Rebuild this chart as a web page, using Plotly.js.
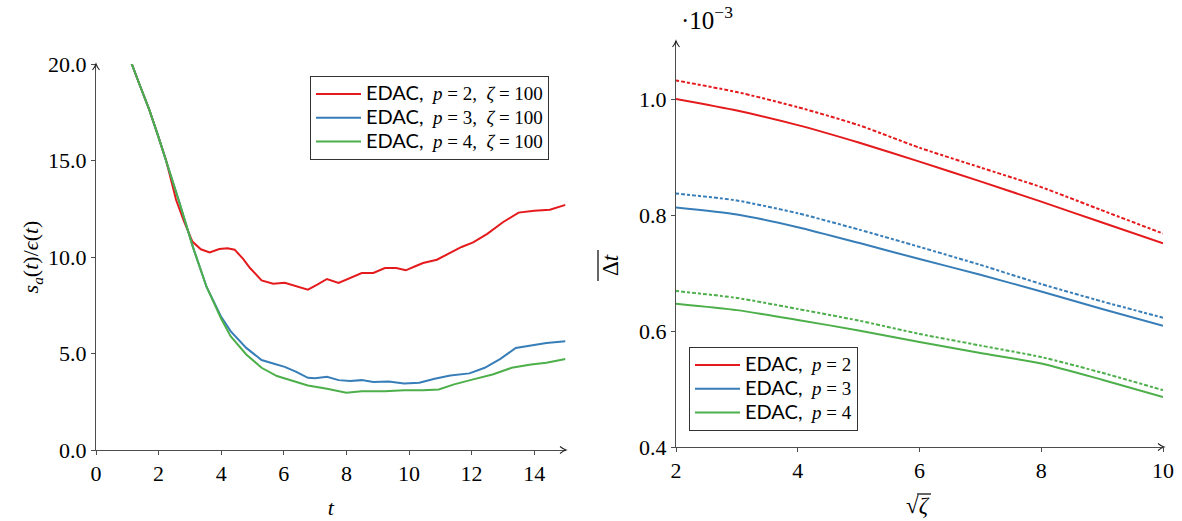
<!DOCTYPE html>
<html>
<head>
<meta charset="utf-8">
<script src="https://cdn.plot.ly/plotly-3.0.1.min.js"></script>
<style>
  html, body { margin: 0; padding: 0; background: #fff; }
  #chart { width: 1182px; height: 521px; }
</style>
</head>
<body>
<div id="chart"></div>
<script>
// ---- left panel: s_a(t)/eps(t) over time ----
const tRed = [1.0, 1.12, 1.4, 1.71, 2.0, 2.24, 2.56, 2.8, 3.08, 3.35, 3.63, 3.94, 4.2, 4.43, 4.7, 4.92, 5.29, 5.66, 6.03, 6.4, 6.77, 7.07, 7.38, 7.75, 8.12, 8.49, 8.86, 9.23, 9.59, 9.9, 10.2, 10.45, 10.89, 11.25, 11.68, 12.05, 12.5, 13.0, 13.5, 14.0, 14.5, 15.0];
const sRed = [20.8, 20.1, 18.9, 17.6, 16.2, 15.0, 12.95, 11.9, 10.8, 10.4, 10.24, 10.41, 10.45, 10.38, 9.9, 9.43, 8.79, 8.62, 8.66, 8.48, 8.31, 8.57, 8.86, 8.66, 8.91, 9.17, 9.17, 9.43, 9.43, 9.31, 9.52, 9.69, 9.86, 10.17, 10.52, 10.76, 11.2, 11.8, 12.3, 12.4, 12.45, 12.7];

const tBlue = [1.0, 1.12, 1.4, 1.71, 2.0, 2.24, 2.67, 3.1, 3.53, 4.0, 4.3, 4.8, 5.29, 5.66, 6.03, 6.4, 6.77, 7.0, 7.38, 7.75, 8.12, 8.49, 8.86, 9.35, 9.84, 10.33, 10.82, 11.32, 11.93, 12.42, 12.92, 13.41, 13.9, 14.39, 15.0];
const sBlue = [20.8, 20.1, 18.9, 17.6, 16.2, 15.0, 12.8, 10.5, 8.46, 6.9, 6.16, 5.29, 4.66, 4.48, 4.31, 4.05, 3.74, 3.72, 3.79, 3.62, 3.57, 3.62, 3.52, 3.55, 3.45, 3.48, 3.69, 3.86, 3.97, 4.26, 4.72, 5.29, 5.41, 5.55, 5.64];

const tGreen = [1.0, 1.12, 1.4, 1.71, 2.0, 2.24, 2.67, 3.1, 3.53, 4.0, 4.3, 4.8, 5.29, 5.78, 6.27, 6.77, 7.38, 8.0, 8.49, 9.23, 9.84, 10.45, 10.95, 11.44, 12.05, 12.67, 13.28, 13.9, 14.39, 15.0];
const sGreen = [20.8, 20.1, 18.9, 17.6, 16.2, 15.0, 12.8, 10.5, 8.46, 6.8, 5.9, 4.95, 4.26, 3.83, 3.57, 3.34, 3.17, 2.97, 3.05, 3.05, 3.1, 3.09, 3.14, 3.4, 3.66, 3.91, 4.26, 4.43, 4.52, 4.72];

// ---- right panel: mean time step (x 1e-3) against sqrt(zeta) ----
const sqrtZeta = [2, 3, 4, 5, 6, 7, 8, 9, 10];
const dtP2 = [1.000, 0.980, 0.955, 0.925, 0.892, 0.858, 0.823, 0.787, 0.751];
const dtP2dash = [1.032, 1.012, 0.986, 0.955, 0.916, 0.882, 0.848, 0.808, 0.768];
const dtP3 = [0.813, 0.801, 0.779, 0.752, 0.724, 0.697, 0.668, 0.638, 0.609];
const dtP3dash = [0.837, 0.825, 0.803, 0.775, 0.745, 0.714, 0.681, 0.651, 0.623];
const dtP4 = [0.647, 0.636, 0.619, 0.601, 0.581, 0.562, 0.544, 0.516, 0.486];
const dtP4dash = [0.669, 0.657, 0.638, 0.618, 0.595, 0.575, 0.555, 0.528, 0.498];

const RED = '#e41a1c', BLUE = '#377eb8', GREEN = '#4daf4a';
const SERIF = 'Liberation Serif';
const SANS = 'Lato';
const DASH = '3px,2px,4px,2px';
const NB = '\u00a0';

// legend labels: sans "EDAC," followed by serif math, sized through spans
function edac() {
  return '<span style="font-family:' + SANS + ';font-size:20px">EDAC,</span>';
}
function math(s) {
  return '<span style="font-size:19px">' + s + '</span>';
}
function leftName(p) {
  return edac() + math(NB + NB + '<i>p</i>' + NB + '=' + NB + p + ',' + NB + NB + '<i>ζ</i>' + NB + '=' + NB + '100');
}
function rightName(p) {
  return edac() + math(NB + NB + '<i>p</i>' + NB + '=' + NB + p);
}

const lw = 2;
const traces = [
  {x: tRed, y: sRed, name: leftName(2), mode: 'lines', line: {color: RED, width: lw}, xaxis: 'x', yaxis: 'y', legend: 'legend'},
  {x: tBlue, y: sBlue, name: leftName(3), mode: 'lines', line: {color: BLUE, width: lw}, xaxis: 'x', yaxis: 'y', legend: 'legend'},
  {x: tGreen, y: sGreen, name: leftName(4), mode: 'lines', line: {color: GREEN, width: lw}, xaxis: 'x', yaxis: 'y', legend: 'legend'},

  {x: sqrtZeta, y: dtP2, name: rightName(2), mode: 'lines', line: {color: RED, width: lw, shape: 'spline', smoothing: 0.6}, xaxis: 'x2', yaxis: 'y2', legend: 'legend2'},
  {x: sqrtZeta, y: dtP3, name: rightName(3), mode: 'lines', line: {color: BLUE, width: lw, shape: 'spline', smoothing: 0.6}, xaxis: 'x2', yaxis: 'y2', legend: 'legend2'},
  {x: sqrtZeta, y: dtP4, name: rightName(4), mode: 'lines', line: {color: GREEN, width: lw, shape: 'spline', smoothing: 0.6}, xaxis: 'x2', yaxis: 'y2', legend: 'legend2'},
  {x: sqrtZeta, y: dtP2dash, mode: 'lines', showlegend: false, line: {color: RED, width: lw, dash: DASH, shape: 'spline', smoothing: 0.6}, xaxis: 'x2', yaxis: 'y2'},
  {x: sqrtZeta, y: dtP3dash, mode: 'lines', showlegend: false, line: {color: BLUE, width: lw, dash: DASH, shape: 'spline', smoothing: 0.6}, xaxis: 'x2', yaxis: 'y2'},
  {x: sqrtZeta, y: dtP4dash, mode: 'lines', showlegend: false, line: {color: GREEN, width: lw, dash: DASH, shape: 'spline', smoothing: 0.6}, xaxis: 'x2', yaxis: 'y2'}
];

const W = 1182, H = 521;
const px = v => v / W;
const py = v => (H - v) / H;

function axisBase() {
  return {
    showgrid: false, zeroline: false, showline: true, linecolor: '#4d4d4d', linewidth: 1,
    ticks: 'outside', ticklen: 4, tickcolor: '#4d4d4d', tickwidth: 1,
    tickfont: {family: SERIF, size: 22, color: '#000'}, fixedrange: true
  };
}

// open arrowheads at the ends of the axis lines (pixel positions turned into paper units)
function arrowUp(x, y) {
  return {type: 'path', xref: 'paper', yref: 'paper',
    path: 'M' + px(x - 3.5) + ',' + py(y + 6) + ' Q' + px(x - 1) + ',' + py(y + 3) + ' ' + px(x) + ',' + py(y) +
          ' Q' + px(x + 1) + ',' + py(y + 3) + ' ' + px(x + 3.5) + ',' + py(y + 6),
    line: {color: '#222', width: 1.1}};
}
function arrowRight(x, y) {
  return {type: 'path', xref: 'paper', yref: 'paper',
    path: 'M' + px(x - 6) + ',' + py(y - 3.5) + ' Q' + px(x - 3) + ',' + py(y - 1) + ' ' + px(x) + ',' + py(y) +
          ' Q' + px(x - 3) + ',' + py(y + 1) + ' ' + px(x - 6) + ',' + py(y + 3.5),
    line: {color: '#222', width: 1.1}};
}

const legendBase = {
  xanchor: 'left', yanchor: 'top', itemwidth: 45,
  bgcolor: '#fff', bordercolor: '#333', borderwidth: 1,
  font: {family: SERIF, size: 16, color: '#000'}, tracegroupgap: 0
};

const layout = {
  width: W, height: H,
  margin: {l: 0, r: 0, t: 0, b: 0},
  font: {family: SERIF, size: 19, color: '#000'},
  paper_bgcolor: '#fff', plot_bgcolor: 'rgba(0,0,0,0)',
  showlegend: true,
  xaxis: Object.assign(axisBase(), {
    domain: [px(96), px(565.5)], range: [0, 15], tickvals: [0, 2, 4, 6, 8, 10, 12, 14],
    anchor: 'y',
    title: {text: '<i>t</i>', font: {family: SERIF, size: 22, color: '#000'}, standoff: 14}
  }),
  yaxis: Object.assign(axisBase(), {
    domain: [py(450), py(64)], range: [0, 20], tickvals: [0, 5, 10, 15, 20], tickformat: '.1f',
    anchor: 'x',
    title: {text: '<i>s</i><sub><i>a</i></sub>(<i>t</i>)/<i>ϵ</i>(<i>t</i>)', font: {family: SERIF, size: 22, color: '#000'}, standoff: 3}
  }),
  xaxis2: Object.assign(axisBase(), {
    domain: [px(676), px(1163)], range: [2, 10], tickvals: [2, 4, 6, 8, 10],
    anchor: 'y2'
  }),
  yaxis2: Object.assign(axisBase(), {
    domain: [py(447), py(41)], range: [0.4, 1.1], tickvals: [0.4, 0.6, 0.8, 1.0], tickformat: '.1f',
    anchor: 'x2'
  }),
  legend: Object.assign({x: px(310), y: py(76)}, legendBase),
  legend2: Object.assign({x: px(689), y: py(347)}, legendBase),
  annotations: [
    // scale factor of the right y axis
    {xref: 'paper', yref: 'paper', x: px(679), y: py(18), xanchor: 'left', yanchor: 'middle', showarrow: false,
     text: '·10<sup>−3</sup>', font: {family: SERIF, size: 25, color: '#000'}},
    // right y axis title; its bar is drawn as a shape
    {xref: 'paper', yref: 'paper', x: px(610), y: py(265), xanchor: 'center', yanchor: 'middle', showarrow: false,
     textangle: -90, text: 'Δ<i>t</i>', font: {family: SERIF, size: 23, color: '#000'}},
    // right x axis title; the vinculum is drawn as a shape
    {xref: 'paper', yref: 'paper', x: px(918), y: py(505), xanchor: 'center', yanchor: 'middle', showarrow: false,
     text: '√<i>ζ</i>', font: {family: SERIF, size: 23, color: '#000'}}
  ],
  shapes: [
    {type: 'line', xref: 'paper', yref: 'paper', x0: px(598), x1: px(598), y0: py(250), y1: py(281), line: {color: '#000', width: 1.2}},
    {type: 'line', xref: 'paper', yref: 'paper', x0: px(917), x1: px(931), y0: py(494), y1: py(494), line: {color: '#000', width: 1.2}},
    arrowUp(96, 64), arrowRight(566, 450),
    arrowUp(676, 41), arrowRight(1164, 447)
  ]
};

Plotly.newPlot('chart', traces, layout, {staticPlot: true, displayModeBar: false});
</script>
</body>
</html>
